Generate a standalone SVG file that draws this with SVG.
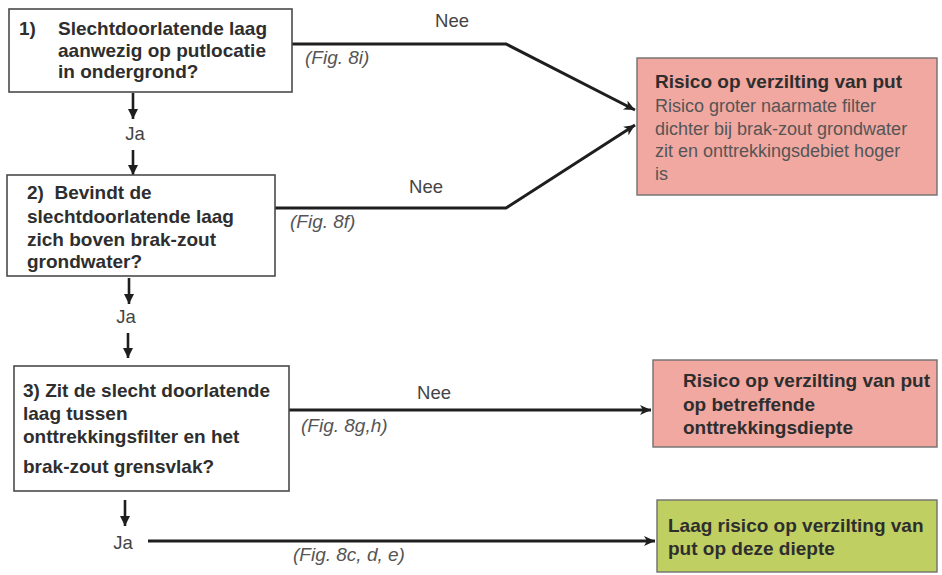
<svg xmlns="http://www.w3.org/2000/svg" width="942" height="575" viewBox="0 0 942 575">
<defs>
<style>
.q{fill:#fff;stroke:#4a4a4a;stroke-width:1.6}
.red{fill:#f1a8a1;stroke:#6f6f6f;stroke-width:1.4}
.grn{fill:#bfcf62;stroke:#6f6f6f;stroke-width:1.4}
.b{font-family:"Liberation Sans",Arial,sans-serif;font-weight:bold;font-size:19px;fill:#2e2e2e}
.r{font-family:"Liberation Sans",Arial,sans-serif;font-size:18px;fill:#555}
.lbl{font-family:"Liberation Sans",Arial,sans-serif;font-size:18.5px;fill:#444}
.fig{font-family:"Liberation Sans",Arial,sans-serif;font-style:italic;font-size:19px;fill:#555}
.c{fill:none;stroke:#1e1e1e;stroke-width:3}
.v{fill:none;stroke:#1e1e1e;stroke-width:2.6}
</style>
<marker id="ah" markerUnits="userSpaceOnUse" markerWidth="14" markerHeight="12" refX="11" refY="5" orient="auto">
<path d="M0,0 L11,5 L0,10 L3,5 Z" fill="#1e1e1e"/>
</marker>
<marker id="av" markerUnits="userSpaceOnUse" markerWidth="12" markerHeight="12" refX="10" refY="5" orient="auto">
<path d="M0,0 L10,5 L0,10 Z" fill="#1e1e1e"/>
</marker>
</defs>

<g id="connectors">
<polyline class="c" points="292,44 506,44 635,110" marker-end="url(#ah)"/>
<polyline class="c" points="275,208 506,208 635,125" marker-end="url(#ah)"/>
<line class="c" x1="289" y1="410" x2="651" y2="410" marker-end="url(#ah)"/>
<line class="c" x1="148" y1="541" x2="655" y2="541" marker-end="url(#ah)"/>
<line class="v" x1="133" y1="93" x2="133" y2="119" marker-end="url(#av)"/>
<line class="v" x1="133" y1="150" x2="133" y2="175" marker-end="url(#av)"/>
<line class="v" x1="129" y1="278" x2="129" y2="304" marker-end="url(#av)"/>
<line class="v" x1="128" y1="333" x2="128" y2="358" marker-end="url(#av)"/>
<line class="v" x1="125" y1="500" x2="125" y2="526" marker-end="url(#av)"/>
<text class="lbl" x="135" y="140" text-anchor="middle">Ja</text>
<text class="lbl" x="126" y="323" text-anchor="middle">Ja</text>
<text class="lbl" x="123" y="549" text-anchor="middle">Ja</text>
<text class="lbl" x="452" y="27" text-anchor="middle">Nee</text>
<text class="lbl" x="426" y="193" text-anchor="middle">Nee</text>
<text class="lbl" x="434" y="399" text-anchor="middle">Nee</text>
<text class="fig" x="305" y="64">(Fig. 8i)</text>
<text class="fig" x="290" y="228">(Fig. 8f)</text>
<text class="fig" x="301" y="432">(Fig. 8g,h)</text>
<text class="fig" x="293" y="561">(Fig. 8c, d, e)</text>
</g>

<g id="q1">
<rect class="q" x="9" y="9" width="283" height="83"/>
<text class="b" x="19" y="35">1)</text>
<text class="b" x="58" y="35">Slechtdoorlatende laag</text>
<text class="b" x="58" y="57">aanwezig op putlocatie</text>
<text class="b" x="58" y="78">in ondergrond?</text>
</g>

<g id="q2">
<rect class="q" x="7" y="175" width="268" height="101"/>
<text class="b" x="27" y="199">2)&#160; Bevindt de</text>
<text class="b" x="27" y="223">slechtdoorlatende laag</text>
<text class="b" x="27" y="246">zich boven brak-zout</text>
<text class="b" x="27" y="268">grondwater?</text>
</g>

<g id="q3">
<rect class="q" x="14" y="366" width="275" height="125"/>
<text class="b" x="23" y="397">3) Zit de slecht doorlatende</text>
<text class="b" x="23" y="420">laag tussen</text>
<text class="b" x="23" y="443">onttrekkingsfilter en het</text>
<text class="b" x="23" y="473">brak-zout grensvlak?</text>
</g>

<g id="r1">
<rect class="red" x="637" y="58" width="300" height="137"/>
<text class="b" x="655" y="88">Risico op verzilting van put</text>
<text class="r" x="655" y="112">Risico groter naarmate filter</text>
<text class="r" x="655" y="135">dichter bij brak-zout grondwater</text>
<text class="r" x="655" y="157">zit en onttrekkingsdebiet hoger</text>
<text class="r" x="655" y="180">is</text>
</g>

<g id="r2">
<rect class="red" x="653" y="360" width="284" height="87"/>
<text class="b" x="683" y="387">Risico op verzilting van put</text>
<text class="b" x="683" y="411">op betreffende</text>
<text class="b" x="683" y="434">onttrekkingsdiepte</text>
</g>

<g id="g1">
<rect class="grn" x="657" y="500" width="280" height="72"/>
<text class="b" x="668" y="532">Laag risico op verzilting van</text>
<text class="b" x="668" y="555">put op deze diepte</text>
</g>
</svg>
